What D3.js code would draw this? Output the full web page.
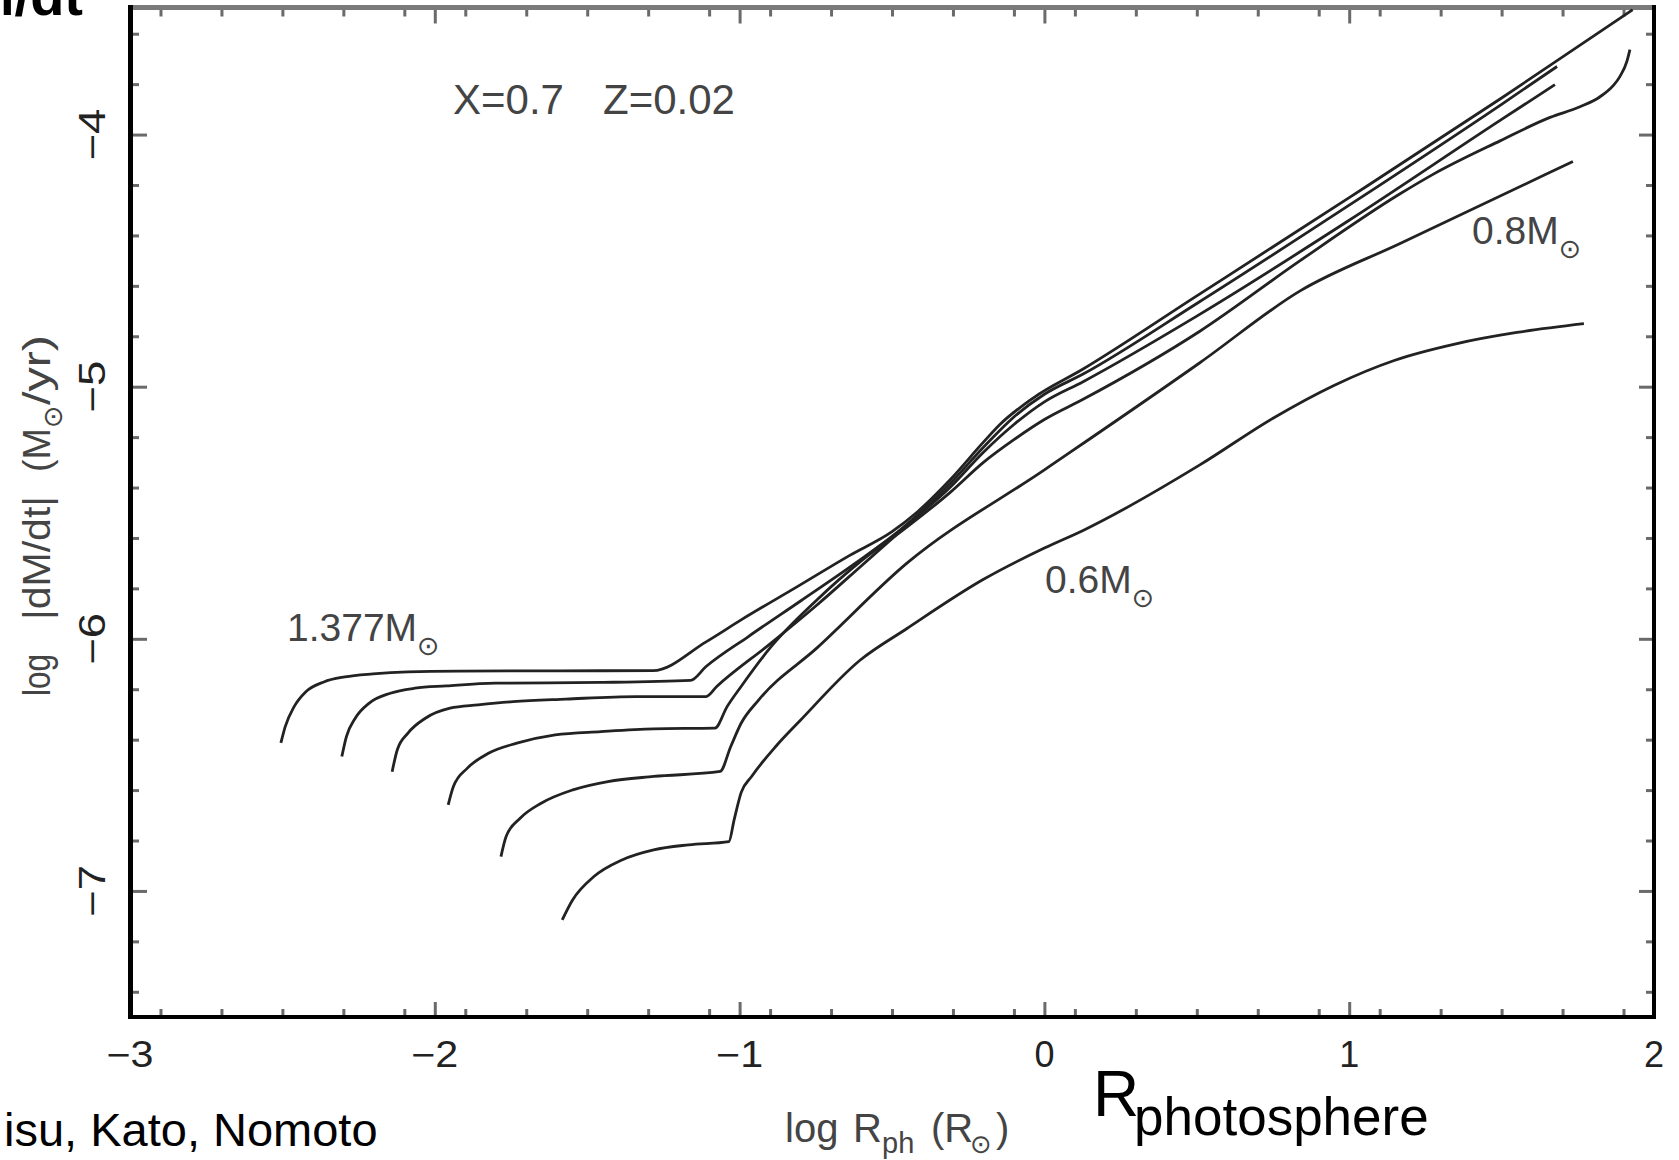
<!DOCTYPE html>
<html>
<head>
<meta charset="utf-8">
<script src="https://cdn.jsdelivr.net/npm/d3@7/dist/d3.min.js"></script>
<style>
html,body{margin:0;padding:0;background:#fff;}
svg{display:block;font-family:"Liberation Sans",Arial,Helvetica,sans-serif;}
</style>
</head>
<body>
<svg id="chart" width="1679" height="1160"></svg>
<script>
// ---- data: log R_ph (R_sun) vs log |dM/dt| (M_sun/yr) ----
const m1377 = [[-2.505,-6.413],[-2.491,-6.349],[-2.462,-6.270],[-2.423,-6.210],[-2.364,-6.171],[-2.295,-6.151],[-2.203,-6.139],[-2.088,-6.131],[-1.917,-6.128],[-1.6,-6.127],[-1.284,-6.126],[-1.110,-6.012],[-0.995,-5.925],[-0.812,-5.794],[-0.64,-5.67],[-0.50,-5.575],[-0.42,-5.50],[-0.31,-5.37],[-0.20,-5.22],[-0.146,-5.15],[-0.037,-5.045],[0.127,-4.93],[0.5,-4.64],[1.0,-4.25],[1.5,-3.855],[1.93,-3.505]];
const m13 = [[-2.305,-6.467],[-2.290,-6.388],[-2.261,-6.315],[-2.215,-6.255],[-2.146,-6.216],[-2.065,-6.196],[-1.962,-6.187],[-1.801,-6.176],[-1.455,-6.173],[-1.161,-6.165],[-1.110,-6.110],[-0.97,-5.99],[-0.8,-5.85],[-0.62,-5.70],[-0.46,-5.555],[-0.31,-5.385],[-0.20,-5.24],[-0.10,-5.12],[0.0,-5.03],[0.127,-4.95],[0.5,-4.67],[1.0,-4.28],[1.5,-3.88],[1.682,-3.730]];
const m12 = [[-2.140,-6.527],[-2.123,-6.440],[-2.088,-6.374],[-2.031,-6.315],[-1.950,-6.275],[-1.858,-6.262],[-1.743,-6.249],[-1.570,-6.239],[-1.340,-6.229],[-1.110,-6.229],[-1.075,-6.189],[-0.9,-6.02],[-0.75,-5.87],[-0.6,-5.71],[-0.46,-5.56],[-0.31,-5.40],[-0.20,-5.26],[-0.10,-5.15],[0.0,-5.06],[0.127,-4.98],[0.5,-4.72],[1.0,-4.34],[1.5,-3.94],[1.675,-3.802]];
const m10 = [[-1.956,-6.659],[-1.939,-6.586],[-1.893,-6.513],[-1.824,-6.454],[-1.731,-6.414],[-1.605,-6.381],[-1.455,-6.368],[-1.282,-6.357],[-1.081,-6.354],[-1.041,-6.269],[-0.995,-6.189],[-0.900,-6.036],[-0.75,-5.85],[-0.6,-5.69],[-0.46,-5.565],[-0.31,-5.42],[-0.2,-5.30],[-0.1,-5.21],[0.0,-5.13],[0.127,-5.05],[0.51,-4.78],[0.839,-4.50],[1.167,-4.235],[1.275,-4.158],[1.495,-4.025],[1.659,-3.932],[1.757,-3.890],[1.823,-3.850],[1.866,-3.806],[1.888,-3.770],[1.911,-3.710],[1.921,-3.663]];
const m08 = [[-1.783,-6.864],[-1.766,-6.784],[-1.720,-6.712],[-1.651,-6.652],[-1.547,-6.599],[-1.432,-6.566],[-1.282,-6.546],[-1.064,-6.526],[-1.029,-6.427],[-0.995,-6.335],[-0.937,-6.242],[-0.746,-6.036],[-0.451,-5.700],[0.0,-5.33],[0.510,-4.905],[0.839,-4.620],[1.167,-4.432],[1.734,-4.107]];
const m06 = [[-1.582,-7.115],[-1.548,-7.036],[-1.478,-6.943],[-1.386,-6.877],[-1.282,-6.837],[-1.167,-6.817],[-1.035,-6.804],[-1.018,-6.718],[-0.995,-6.610],[-0.960,-6.545],[-0.880,-6.425],[-0.802,-6.325],[-0.605,-6.085],[-0.452,-5.960],[-0.201,-5.765],[0.0,-5.640],[0.127,-5.570],[0.51,-5.310],[0.75,-5.125],[0.95,-4.995],[1.15,-4.895],[1.35,-4.830],[1.55,-4.785],[1.77,-4.750]];
const curves = [m1377, m13, m12, m10, m08, m06];

const xMajor = [-3,-2,-1,0,1,2];
const yMajor = [-7,-6,-5,-4];
const xMinor = d3.range(-29,21,2).map(d=>d/10).filter(d=>!Number.isInteger(d));
const yMinor = d3.range(-74,-35,2).map(d=>d/10).filter(d=>!Number.isInteger(d));
const fmt = d => d < 0 ? "\u2212" + Math.abs(d) : String(d);

// ---- drawing ----
const svg = d3.select("#chart");
const x = d3.scaleLinear().domain([-3,2]).range([130,1654]);
const y = d3.scaleLinear().domain([-7.5,-3.5]).range([1017,8.5]);
const tickColor = "#6a6a6a";

function styleAxis(g){
  g.select(".domain").remove();
  g.selectAll(".tick line").attr("stroke",tickColor).attr("stroke-width",3);
  g.selectAll("text").remove();
}
// bottom
svg.append("g").attr("transform","translate(0,1017)").call(d3.axisBottom(x).tickValues(xMajor).tickSize(-15).tickSizeOuter(0)).call(styleAxis);
svg.append("g").attr("transform","translate(0,1017)").call(d3.axisBottom(x).tickValues(xMinor).tickSize(-8).tickSizeOuter(0)).call(styleAxis);
// top
svg.append("g").attr("transform","translate(0,8.5)").call(d3.axisTop(x).tickValues(xMajor).tickSize(-15).tickSizeOuter(0)).call(styleAxis);
svg.append("g").attr("transform","translate(0,8.5)").call(d3.axisTop(x).tickValues(xMinor).tickSize(-8).tickSizeOuter(0)).call(styleAxis);
// left
svg.append("g").attr("transform","translate(130,0)").call(d3.axisLeft(y).tickValues(yMajor).tickSize(-17).tickSizeOuter(0)).call(styleAxis);
svg.append("g").attr("transform","translate(130,0)").call(d3.axisLeft(y).tickValues(yMinor).tickSize(-9).tickSizeOuter(0)).call(styleAxis);
// right
svg.append("g").attr("transform","translate(1654,0)").call(d3.axisRight(y).tickValues(yMajor).tickSize(-15).tickSizeOuter(0)).call(styleAxis);
svg.append("g").attr("transform","translate(1654,0)").call(d3.axisRight(y).tickValues(yMinor).tickSize(-8).tickSizeOuter(0)).call(styleAxis);

// frame
svg.append("line").attr("x1",128).attr("x2",1656).attr("y1",7.5).attr("y2",7.5).attr("stroke","#7a7a7a").attr("stroke-width",5);
svg.append("line").attr("x1",130.5).attr("x2",130.5).attr("y1",5).attr("y2",1019).attr("stroke","#000").attr("stroke-width",5);
svg.append("line").attr("x1",128).attr("x2",1656).attr("y1",1017).attr("y2",1017).attr("stroke","#000").attr("stroke-width",4);
svg.append("line").attr("x1",1654).attr("x2",1654).attr("y1",5).attr("y2",1019).attr("stroke","#000").attr("stroke-width",4);

// curves
const line = d3.line().x(d=>x(d[0])).y(d=>y(d[1])).curve(d3.curveMonotoneX);
svg.append("g").selectAll("path").data(curves).join("path")
  .attr("d",line).attr("fill","none").attr("stroke","#222").attr("stroke-width",2.8)
  .attr("stroke-linejoin","round");

// tick labels
svg.append("g").selectAll("text").data(xMajor).join("text")
  .attr("x",d=>x(d)).attr("y",1067).attr("text-anchor","middle")
  .attr("font-size",36).attr("fill","#222")
  .each(function(d){ if(d<0) d3.select(this).attr("textLength",47).attr("lengthAdjust","spacingAndGlyphs"); })
  .text(fmt);
svg.append("g").selectAll("text").data(yMajor).join("text")
  .attr("transform",d=>`translate(105,${y(d)}) rotate(-90)`).attr("text-anchor","middle")
  .attr("font-size",37).attr("fill","#222").attr("textLength",52).attr("lengthAdjust","spacingAndGlyphs")
  .text(fmt);

// annotation labels
const gray = "#444";
svg.append("text").attr("x",453).attr("y",114).attr("font-size",42).attr("fill",gray).text("X=0.7");
svg.append("text").attr("x",603).attr("y",114).attr("font-size",42).attr("fill",gray).text("Z=0.02");

function massLabel(px,py,str){
  const t = svg.append("text").attr("x",px).attr("y",py).attr("font-size",39).attr("fill",gray);
  t.append("tspan").text(str);
  t.append("tspan").attr("font-family","DejaVu Sans").attr("font-size",27).attr("dy",14).text("\u2299");
}
massLabel(287,641,"1.377M");
massLabel(1472,244,"0.8M");
massLabel(1045,593,"0.6M");

// y axis title (rotated; x' = -page y)
const yt = svg.append("text").attr("transform","translate(50,0) rotate(-90)")
  .attr("font-size",39).attr("fill",gray);
yt.append("tspan").attr("x",-696).attr("textLength",42).attr("lengthAdjust","spacingAndGlyphs").text("log");
yt.append("tspan").attr("x",-620).attr("textLength",124).attr("lengthAdjust","spacingAndGlyphs").text("|dM/dt|");
yt.append("tspan").attr("x",-472).attr("textLength",44).attr("lengthAdjust","spacingAndGlyphs").text("(M");
yt.append("tspan").attr("x",-428).attr("dy",12).attr("font-family","DejaVu Sans").attr("font-size",27).text("\u2299");
yt.append("tspan").attr("x",-405).attr("dy",-12).attr("textLength",70).attr("lengthAdjust","spacingAndGlyphs").text("/yr)");

// x axis title
const xt = svg.append("text").attr("y",1142).attr("font-size",40).attr("fill",gray);
xt.append("tspan").attr("x",785).text("log");
xt.append("tspan").attr("x",853).text("R");
xt.append("tspan").attr("x",882).attr("dy",11).attr("font-size",29).text("ph");
xt.append("tspan").attr("x",931).attr("dy",-11).text("(R");
xt.append("tspan").attr("x",970).attr("dy",11).attr("font-family","DejaVu Sans").attr("font-size",26).text("\u2299");
xt.append("tspan").attr("x",996).attr("dy",-11).text(")");

// slide overlay texts
svg.append("text").attr("x",83).attr("y",15).attr("text-anchor","end").attr("font-size",56)
  .attr("font-weight","bold").attr("fill","#000").text("dM/dt");
const rp = svg.append("text").attr("fill","#000");
rp.append("tspan").attr("x",1093).attr("y",1116).attr("font-size",64).text("R");
rp.append("tspan").attr("x",1134).attr("y",1135).attr("font-size",53).text("photosphere");
svg.append("text").attr("x",4).attr("y",1146).attr("font-size",47).attr("fill","#000").text("isu, Kato, Nomoto");
</script>
</body>
</html>
